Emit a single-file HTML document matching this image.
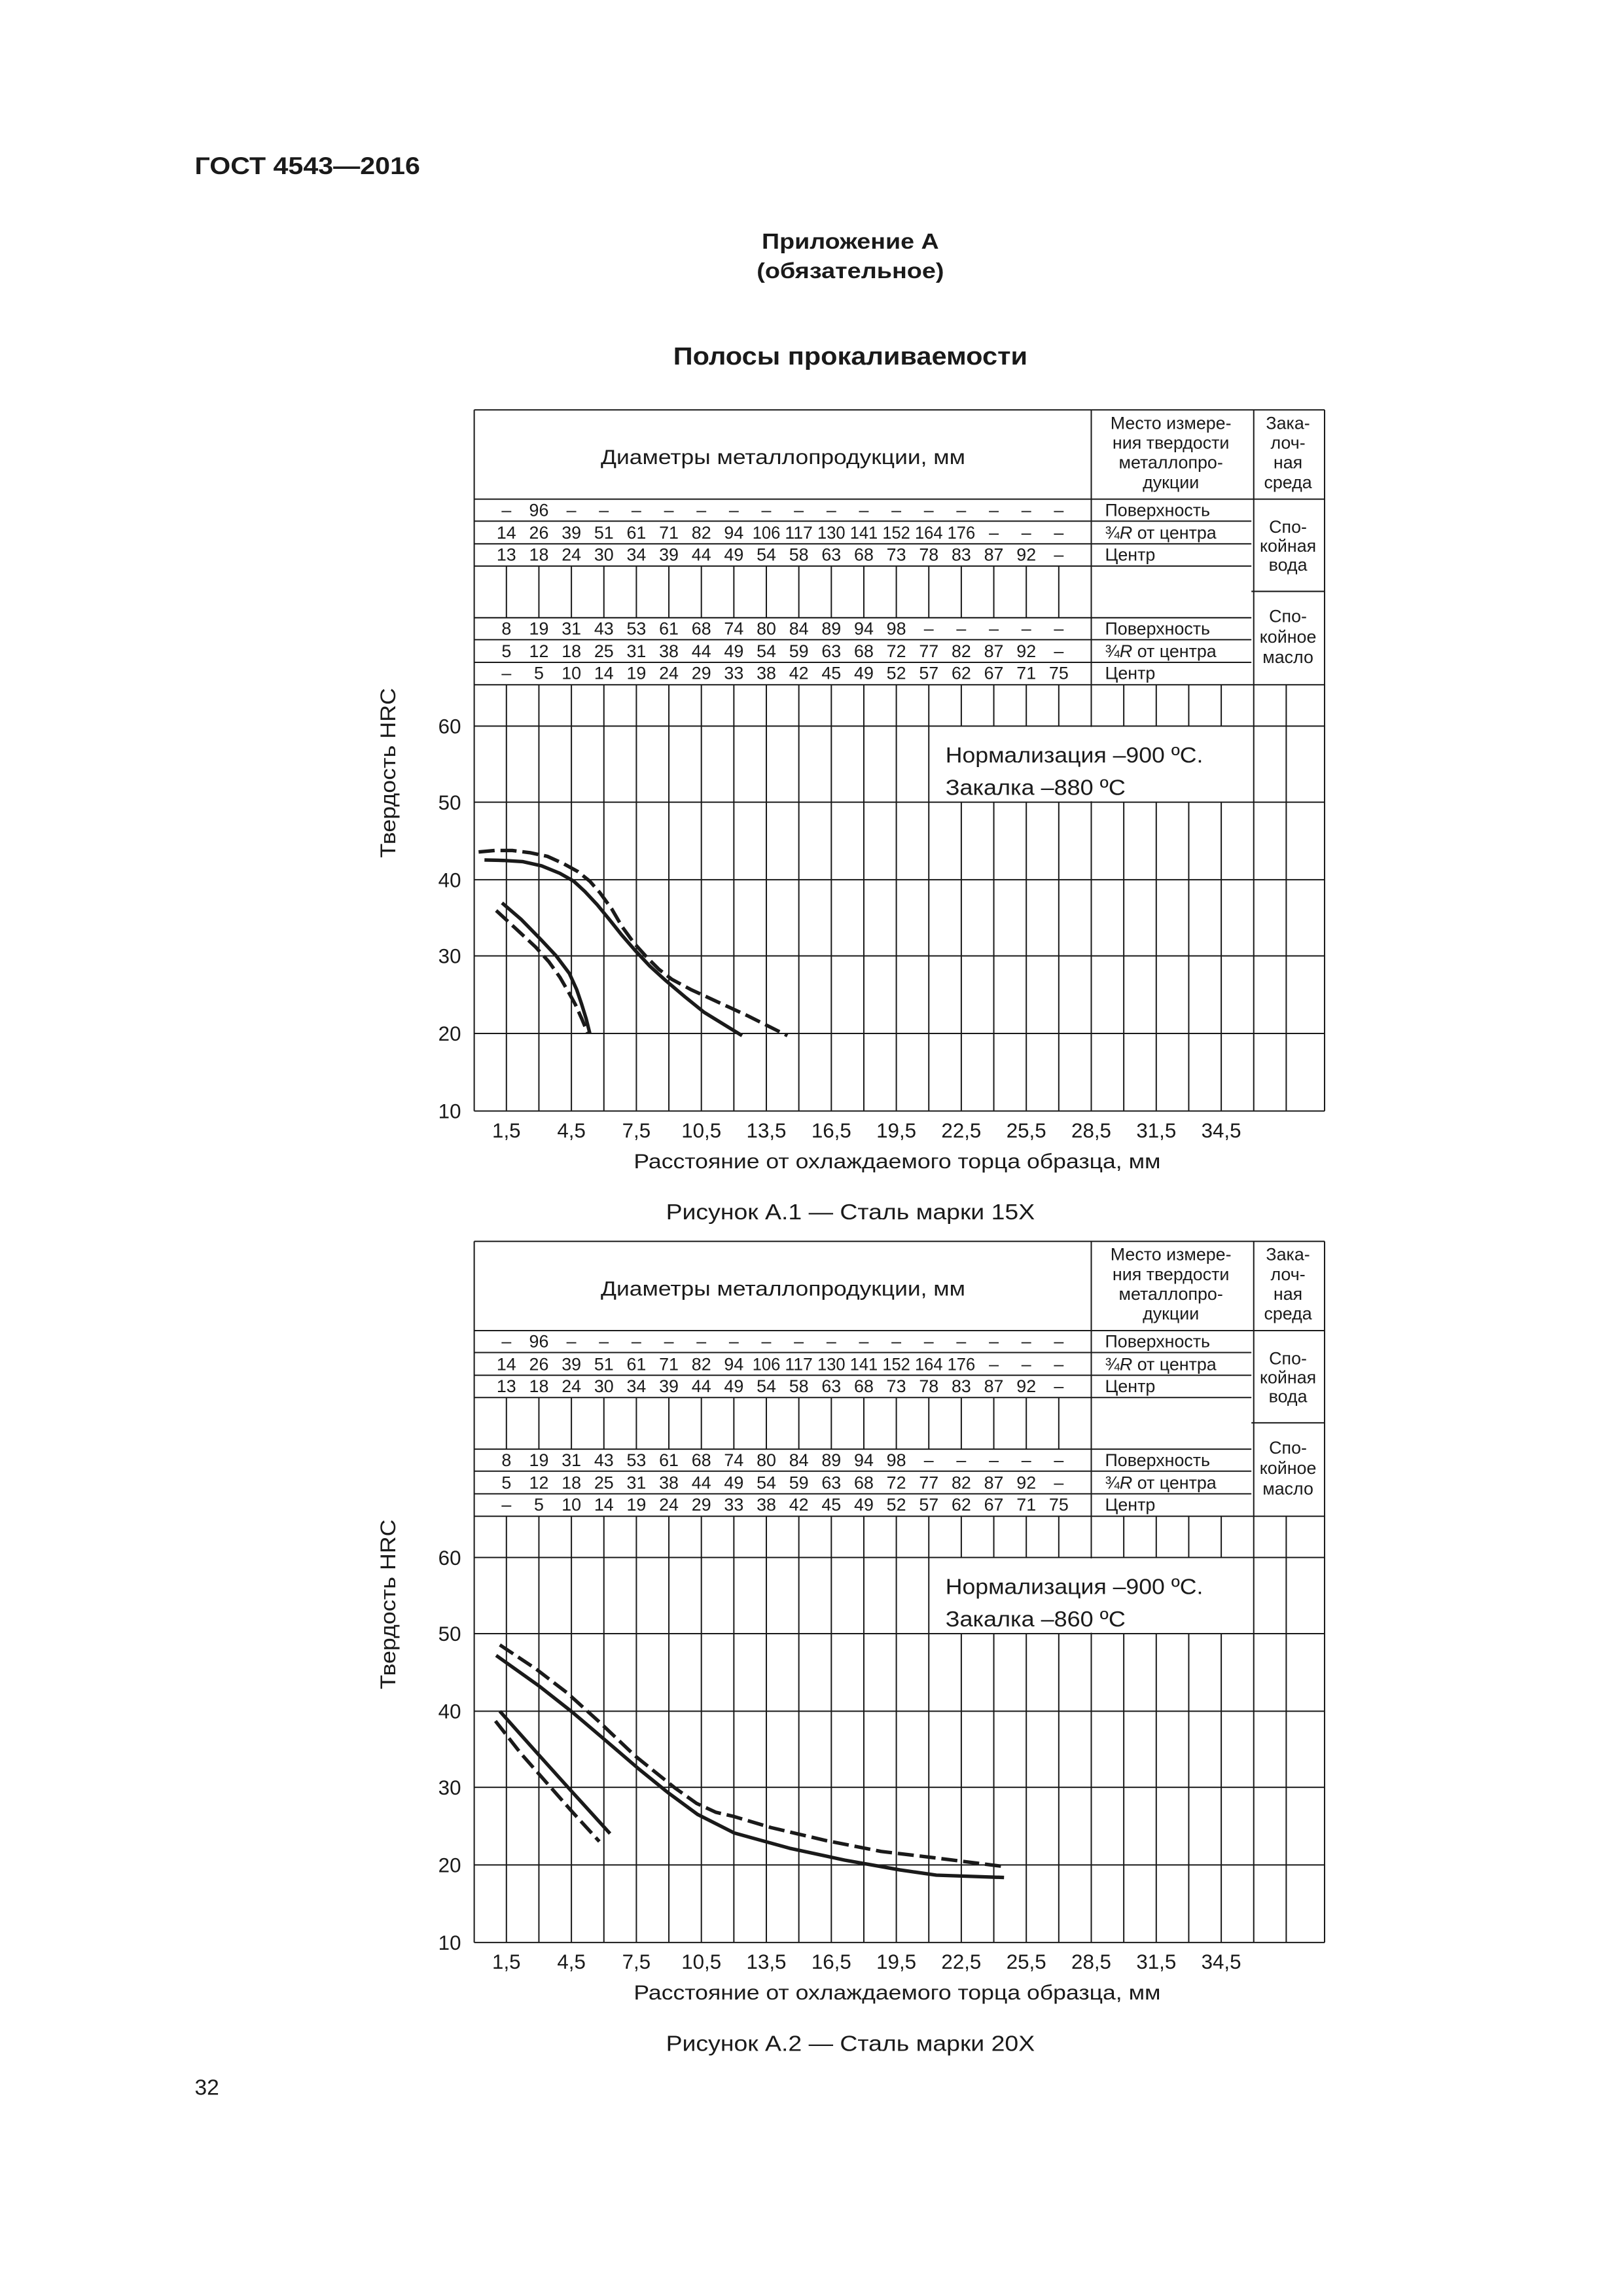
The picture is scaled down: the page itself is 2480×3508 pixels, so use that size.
<!DOCTYPE html>
<html><head><meta charset="utf-8"><style>
html,body{margin:0;padding:0;background:#fff}
svg{display:block}
text{font-family:"Liberation Sans",Arial,sans-serif;fill:#1a1a1a}
.g{stroke:#1a1a1a;stroke-width:0.9;fill:none}
.c{stroke:#1a1a1a;stroke-width:2.4;fill:none;stroke-linejoin:round;stroke-linecap:butt}
.d{stroke-dasharray:11 4}
.t{font-size:12px}
.v{font-size:12px;text-anchor:middle}
.m{text-anchor:middle}
</style></head><body>
<svg width="2480" height="3508" viewBox="0 0 1108.9 1568.5" preserveAspectRatio="none" xmlns="http://www.w3.org/2000/svg">
<text x="133" y="119" font-size="16.5" font-weight="bold" textLength="154" lengthAdjust="spacingAndGlyphs">ГОСТ 4543—2016</text>
<text x="581" y="170" font-size="15" class="m" font-weight="bold" textLength="121" lengthAdjust="spacingAndGlyphs">Приложение А</text>
<text x="581" y="190" font-size="15" class="m" font-weight="bold" textLength="128" lengthAdjust="spacingAndGlyphs">(обязательное)</text>
<text x="581" y="249" font-size="17" class="m" font-weight="bold" textLength="242" lengthAdjust="spacingAndGlyphs">Полосы прокаливаемости</text>
<text x="133" y="1431" font-size="15">32</text>

<g id="fig">
<path class="g" d="M324 280H905M324 341H905M324 356H855M324 371.5H855M324 386.7H855M324 422H855M324 437H855M324 452.5H855M855 404H905M324 467.8H905M324 496H905M324 548H905M324 601H905M324 653H905M324 706H905M324 759H905
M324 280V759M905 280V759M745.6 280V759M856.6 280V759
M346 386.7V422M368.2 386.7V422M390.4 386.7V422M412.6 386.7V422M434.8 386.7V422M457 386.7V422M479.2 386.7V422M501.4 386.7V422M523.6 386.7V422M545.8 386.7V422M568 386.7V422M590.2 386.7V422M612.4 386.7V422M634.6 386.7V422M656.8 386.7V422M679 386.7V422M701.2 386.7V422M723.4 386.7V422
M346 467.8V759M368.2 467.8V759M390.4 467.8V759M412.6 467.8V759M434.8 467.8V759M457 467.8V759M479.2 467.8V759M501.4 467.8V759M523.6 467.8V759M545.8 467.8V759M568 467.8V759M590.2 467.8V759M612.4 467.8V759M634.6 467.8V759M878.8 467.8V759
M656.8 467.8V496M656.8 548V759M679 467.8V496M679 548V759M701.2 467.8V496M701.2 548V759M723.4 467.8V496M723.4 548V759M767.8 467.8V496M767.8 548V759M790 467.8V496M790 548V759M812.2 467.8V496M812.2 548V759M834.4 467.8V496M834.4 548V759"/>
<rect x="635.2" y="496.6" width="220.8" height="50.8" fill="#fff"/>
<text x="535" y="317" font-size="14" class="m" textLength="249" lengthAdjust="spacingAndGlyphs">Диаметры металлопродукции, мм</text>
<g class="t" text-anchor="middle">
<text x="800" y="293">Место измере-</text><text x="800" y="306.5">ния твердости</text><text x="800" y="320">металлопро-</text><text x="800" y="333.5">дукции</text>
<text x="880" y="293">Зака-</text><text x="880" y="306.5">лоч-</text><text x="880" y="320">ная</text><text x="880" y="333.5">среда</text>
<text x="880" y="364">Спо-</text><text x="880" y="377">койная</text><text x="880" y="390">вода</text>
<text x="880" y="425">Спо-</text><text x="880" y="439">койное</text><text x="880" y="453">масло</text>
</g>
<g class="t">
<text x="755" y="352.5">Поверхность</text>
<text x="755" y="368">¾<tspan font-style="italic">R</tspan> от центра</text>
<text x="755" y="383">Центр</text>
<text x="755" y="433.5">Поверхность</text>
<text x="755" y="449">¾<tspan font-style="italic">R</tspan> от центра</text>
<text x="755" y="464">Центр</text>
</g>
<text class="v" y="352.5"><tspan x="346">–</tspan><tspan x="368.2">96</tspan><tspan x="390.4">–</tspan><tspan x="412.6">–</tspan><tspan x="434.8">–</tspan><tspan x="457">–</tspan><tspan x="479.2">–</tspan><tspan x="501.4">–</tspan><tspan x="523.6">–</tspan><tspan x="545.8">–</tspan><tspan x="568">–</tspan><tspan x="590.2">–</tspan><tspan x="612.4">–</tspan><tspan x="634.6">–</tspan><tspan x="656.8">–</tspan><tspan x="679">–</tspan><tspan x="701.2">–</tspan><tspan x="723.4">–</tspan></text>
<text class="v" y="368"><tspan x="346">14</tspan><tspan x="368.2">26</tspan><tspan x="390.4">39</tspan><tspan x="412.6">51</tspan><tspan x="434.8">61</tspan><tspan x="457">71</tspan><tspan x="479.2">82</tspan><tspan x="501.4">94</tspan><tspan x="523.6" textLength="19" lengthAdjust="spacingAndGlyphs">106</tspan><tspan x="545.8" textLength="19" lengthAdjust="spacingAndGlyphs">117</tspan><tspan x="568" textLength="19" lengthAdjust="spacingAndGlyphs">130</tspan><tspan x="590.2" textLength="19" lengthAdjust="spacingAndGlyphs">141</tspan><tspan x="612.4" textLength="19" lengthAdjust="spacingAndGlyphs">152</tspan><tspan x="634.6" textLength="19" lengthAdjust="spacingAndGlyphs">164</tspan><tspan x="656.8" textLength="19" lengthAdjust="spacingAndGlyphs">176</tspan><tspan x="679">–</tspan><tspan x="701.2">–</tspan><tspan x="723.4">–</tspan></text>
<text class="v" y="383"><tspan x="346">13</tspan><tspan x="368.2">18</tspan><tspan x="390.4">24</tspan><tspan x="412.6">30</tspan><tspan x="434.8">34</tspan><tspan x="457">39</tspan><tspan x="479.2">44</tspan><tspan x="501.4">49</tspan><tspan x="523.6">54</tspan><tspan x="545.8">58</tspan><tspan x="568">63</tspan><tspan x="590.2">68</tspan><tspan x="612.4">73</tspan><tspan x="634.6">78</tspan><tspan x="656.8">83</tspan><tspan x="679">87</tspan><tspan x="701.2">92</tspan><tspan x="723.4">–</tspan></text>
<text class="v" y="433.5"><tspan x="346">8</tspan><tspan x="368.2">19</tspan><tspan x="390.4">31</tspan><tspan x="412.6">43</tspan><tspan x="434.8">53</tspan><tspan x="457">61</tspan><tspan x="479.2">68</tspan><tspan x="501.4">74</tspan><tspan x="523.6">80</tspan><tspan x="545.8">84</tspan><tspan x="568">89</tspan><tspan x="590.2">94</tspan><tspan x="612.4">98</tspan><tspan x="634.6">–</tspan><tspan x="656.8">–</tspan><tspan x="679">–</tspan><tspan x="701.2">–</tspan><tspan x="723.4">–</tspan></text>
<text class="v" y="449"><tspan x="346">5</tspan><tspan x="368.2">12</tspan><tspan x="390.4">18</tspan><tspan x="412.6">25</tspan><tspan x="434.8">31</tspan><tspan x="457">38</tspan><tspan x="479.2">44</tspan><tspan x="501.4">49</tspan><tspan x="523.6">54</tspan><tspan x="545.8">59</tspan><tspan x="568">63</tspan><tspan x="590.2">68</tspan><tspan x="612.4">72</tspan><tspan x="634.6">77</tspan><tspan x="656.8">82</tspan><tspan x="679">87</tspan><tspan x="701.2">92</tspan><tspan x="723.4">–</tspan></text>
<text class="v" y="464"><tspan x="346">–</tspan><tspan x="368.2">5</tspan><tspan x="390.4">10</tspan><tspan x="412.6">14</tspan><tspan x="434.8">19</tspan><tspan x="457">24</tspan><tspan x="479.2">29</tspan><tspan x="501.4">33</tspan><tspan x="523.6">38</tspan><tspan x="545.8">42</tspan><tspan x="568">45</tspan><tspan x="590.2">49</tspan><tspan x="612.4">52</tspan><tspan x="634.6">57</tspan><tspan x="656.8">62</tspan><tspan x="679">67</tspan><tspan x="701.2">71</tspan><tspan x="723.4">75</tspan></text>

<g font-size="14" text-anchor="end">
<text x="315" y="501">60</text><text x="315" y="553">50</text><text x="315" y="606">40</text><text x="315" y="658">30</text><text x="315" y="711">20</text><text x="315" y="764">10</text>
</g>
<text transform="translate(270,528) rotate(-90)" font-size="14.5" class="m" textLength="116" lengthAdjust="spacingAndGlyphs">Твердость HRC</text>
<g font-size="14" text-anchor="middle">
<text x="346" y="777">1,5</text><text x="390.4" y="777">4,5</text><text x="434.8" y="777">7,5</text><text x="479.2" y="777">10,5</text><text x="523.6" y="777">13,5</text><text x="568" y="777">16,5</text><text x="612.4" y="777">19,5</text><text x="656.8" y="777">22,5</text><text x="701.2" y="777">25,5</text><text x="745.6" y="777">28,5</text><text x="790" y="777">31,5</text><text x="834.4" y="777">34,5</text>
</g>
<text x="613" y="798" font-size="14" class="m" textLength="360" lengthAdjust="spacingAndGlyphs">Расстояние от охлаждаемого торца образца, мм</text>
<text x="646" y="521" font-size="15" textLength="176" lengthAdjust="spacingAndGlyphs">Нормализация –900 ºС.</text>
</g>

<text x="646" y="543" font-size="15" textLength="123" lengthAdjust="spacingAndGlyphs">Закалка –880 ºС</text>
<text x="581" y="833" font-size="15" class="m" textLength="252" lengthAdjust="spacingAndGlyphs">Рисунок А.1 — Сталь марки 15Х</text>

<use href="#fig" transform="translate(0,568)"/>
<text x="646" y="1111" font-size="15" textLength="123" lengthAdjust="spacingAndGlyphs">Закалка –860 ºС</text>
<text x="581" y="1401" font-size="15" class="m" textLength="252" lengthAdjust="spacingAndGlyphs">Рисунок А.2 — Сталь марки 20Х</text>

<polyline class="c d" points="327,582 338,581 350,581 362,582.5 374,585 385,590 395,595.5 403,602 410,610 418,621 425,633 433,644 442,654 450,662 459,669 472,676 485,682 498,688 511,694 525,701 538,707.5"/>
<polyline class="c" points="331,587.5 344,587.8 357,588.6 370,591.5 382.5,596.6 392,602 399.6,609 408,618 416.7,628.6 425,639 433.7,649 444,660 455,670 468,681 481,691.5 494,699.5 507,707.5"/>
<polyline class="c" points="343,616.8 356,628 369.7,642 380,653 389,665 394,676 397.4,686 400.5,696 403,706"/>
<polyline class="c d" points="339,622 352,634 366,647 375,657 382.5,667.5 388,677 393,686 397.5,696 401.7,706"/>
<polyline class="c d" points="341.5,1123.7 366,1140 387.4,1156.4 408.8,1175.7 433.9,1199.5 461.5,1221.7 476,1232 489,1238 501.7,1241 526.8,1248.5 564.5,1257.4 602,1264.8 639.8,1269.3 685,1275"/>
<polyline class="c" points="339,1130.9 368.6,1152 391.2,1169.8 413.8,1189 436.4,1208.4 456.5,1224.7 476.6,1239.5 501.7,1252.2 539.4,1262.6 577,1270.7 614.7,1277.4 639.8,1281 686,1282.6"/>
<polyline class="c" points="341.5,1169 366,1196.5 388.7,1221.7 416.8,1252.6"/>
<polyline class="c d" points="338.5,1175.7 356,1198 373.6,1218 391.2,1238 409.5,1258"/>
</svg>
</body></html>
